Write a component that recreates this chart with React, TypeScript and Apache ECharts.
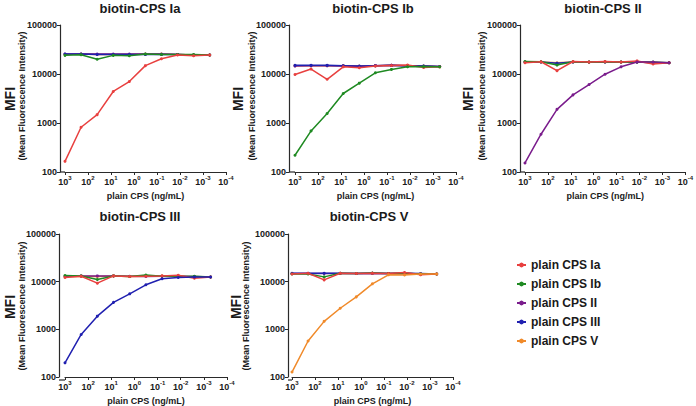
import React, { useEffect, useRef } from "react";
import * as echarts from "echarts";

const seriesNames = ["plain CPS Ia", "plain CPS Ib", "plain CPS II", "plain CPS III", "plain CPS V"];
const seriesColors = ["#e8403f", "#1f8a22", "#7a1c8c", "#2020b0", "#f08a2a"];
const seriesZ = [6, 5, 3, 4, 2];
const panelTitles = ["biotin-CPS Ia", "biotin-CPS Ib", "biotin-CPS II", "biotin-CPS III", "biotin-CPS V"];
const concentrations = [1000, 200, 40, 8, 1.6, 0.32, 0.064, 0.0128, 0.00256, 0.000512];

const panelIa = [
  [165, 820, 1480, 4400, 7000, 14800, 20500, 24500, 23500, 24500],
  [24000, 24800, 20000, 24000, 23500, 25500, 25000, 25000, 25000, 24500],
  [25500, 25500, 25500, 25500, 25500, 25500, 25500, 25000, 24500, 24500],
  [25500, 25500, 25000, 25000, 25000, 25000, 25000, 25000, 24500, 24500],
  [25000, 25500, 25000, 25000, 25000, 25500, 25500, 25000, 24500, 24500],
];
const panelIb = [
  [9800, 12600, 7800, 14000, 13400, 14500, 14900, 15200, 13600, 14000],
  [220, 690, 1560, 4000, 6500, 10600, 12400, 14100, 14200, 14000],
  [14500, 14800, 14800, 14500, 14200, 14800, 15000, 14800, 14500, 14200],
  [15000, 15000, 15000, 14800, 14500, 14800, 15000, 14500, 14500, 14200],
  [14800, 14800, 14800, 14800, 14500, 14800, 15000, 14800, 14500, 14000],
];
const panelII = [
  [17000, 17800, 11700, 18000, 17500, 18000, 17500, 18500, 16000, 17000],
  [18000, 17800, 15200, 17800, 17500, 17800, 17500, 17500, 17500, 17000],
  [153, 590, 1900, 3750, 6100, 9900, 14000, 17500, 17500, 17000],
  [17500, 17500, 16500, 17500, 17500, 17500, 17500, 17500, 17000, 17000],
  [17500, 17500, 17000, 17500, 17500, 17500, 17500, 17500, 17000, 17000],
];
const panelIII = [
  [12200, 13000, 9300, 13200, 12800, 13000, 13200, 13600, 11800, 12500],
  [13500, 13200, 11100, 13200, 12800, 13800, 13000, 12800, 13000, 12500],
  [13000, 13200, 13200, 13200, 13000, 12800, 13000, 13000, 12800, 12500],
  [198, 780, 1890, 3680, 5550, 8600, 11500, 12200, 12500, 12500],
  [12800, 13000, 12800, 13200, 12800, 13000, 13200, 13200, 12500, 12500],
];
const panelV = [
  [14500, 15000, 10900, 15000, 14800, 15000, 14800, 15500, 14000, 14500],
  [14500, 14500, 12600, 15000, 14800, 15200, 14800, 15000, 14500, 14500],
  [14800, 14800, 14800, 14800, 14800, 15000, 14800, 15000, 14500, 14500],
  [15000, 15000, 15000, 15000, 14800, 15000, 14800, 15000, 14800, 14500],
  [127, 570, 1470, 2770, 4800, 9000, 13900, 13800, 14500, 14500],
];
const panels = [panelIa, panelIb, panelII, panelIII, panelV];

const yAxisName = "MFI";
const yAxisSubName = "(Mean Fluorescence Intensity)";
const xAxisName = "plain CPS (ng/mL)";

const layout = [
  { left: 65, top: 25, width: 161, height: 147, yOffset: 5, title: [140, 8], mfi: [10, 99], mean: [22, 96] },
  { left: 295, top: 25, width: 161, height: 147, yOffset: 6, title: [373, 8], mfi: [238, 99], mean: [252, 96] },
  { left: 525, top: 25, width: 162, height: 147, yOffset: 5, title: [603, 8], mfi: [468, 99], mean: [482, 96] },
  { left: 65, top: 234, width: 162, height: 146, yOffset: 6, title: [140, 216], mfi: [10, 307], mean: [22, 306] },
  { left: 292, top: 234, width: 161, height: 146, yOffset: 4, title: [369, 216], mfi: [236, 307], mean: [246, 306] },
];

const FONT = "'Liberation Sans', Arial, sans-serif";
const TXT = "#1a1a1a";
const AXIS = "#2a2a2a";

export default function App() {
  const ref = useRef<HTMLDivElement>(null);
  useEffect(() => {
    if (!ref.current) return;
    const chart = echarts.init(ref.current, null, { renderer: "svg" });
    const grid: any[] = [];
    const xAxis: any[] = [];
    const yAxis: any[] = [];
    const series: any[] = [];
    const graphic: any[] = [];
    layout.forEach((L, p) => {
      grid.push({ left: L.left, top: L.top, width: L.width, height: L.height });
      xAxis.push({
        type: "log",
        logBase: 10,
        gridIndex: p,
        min: 0.0001,
        max: 1000,
        inverse: true,
        splitNumber: 7,
        name: xAxisName,
        nameLocation: "middle",
        nameGap: 19,
        nameTextStyle: { fontSize: 9, fontWeight: "bold", color: TXT, fontFamily: FONT },
        axisLine: { lineStyle: { color: AXIS, width: 1.2 } },
        axisTick: { length: 3, lineStyle: { color: AXIS } },
        splitLine: { show: false },
        minorTick: { show: false },
        axisLabel: {
          margin: 3,
          formatter: (v: number) => {
            const e = Math.round(Math.log10(v));
            return `{b|10}{s|${e}}`;
          },
          rich: {
            b: { fontSize: 9, fontWeight: "bold", color: TXT, fontFamily: FONT, verticalAlign: "bottom", lineHeight: 11 },
            s: { fontSize: 6, fontWeight: "bold", color: TXT, fontFamily: FONT, verticalAlign: "top", lineHeight: 11 },
          },
        },
      });
      yAxis.push({
        type: "log",
        logBase: 10,
        gridIndex: p,
        min: 100,
        max: 100000,
        splitNumber: 3,
        offset: L.yOffset,
        axisLine: { show: true, lineStyle: { color: AXIS, width: 1.2 } },
        axisTick: { show: true, length: 3, lineStyle: { color: AXIS } },
        splitLine: { show: false },
        axisLabel: {
          margin: 3,
          fontSize: 9,
          fontWeight: "bold",
          color: TXT,
          fontFamily: FONT,
          formatter: (v: number) => String(Math.round(v)),
        },
      });
      panels[p].forEach((vals, s) => {
        series.push({
          type: "line",
          name: seriesNames[s],
          xAxisIndex: p,
          yAxisIndex: p,
          data: concentrations.map((c, i) => [c, vals[i]]),
          symbol: "circle",
          symbolSize: 3,
          lineStyle: { width: 1.5, color: seriesColors[s] },
          itemStyle: { color: seriesColors[s] },
          z: s === p ? 8 : seriesZ[s],
        });
      });
      const bottom = L.top + L.height;
      graphic.push({
        type: "line",
        shape: { x1: L.left - L.yOffset, y1: bottom, x2: L.left, y2: bottom },
        style: { stroke: AXIS, lineWidth: 1.2 },
      });
      graphic.push({
        type: "text",
        x: L.title[0],
        y: L.title[1],
        style: { text: panelTitles[p], fontSize: 13, fontWeight: "bold", fill: TXT, fontFamily: FONT, textAlign: "center", textVerticalAlign: "middle" },
      });
      graphic.push({
        type: "text",
        x: L.mfi[0],
        y: L.mfi[1],
        rotation: Math.PI / 2,
        style: { text: yAxisName, fontSize: 14, fontWeight: "bold", fill: TXT, fontFamily: FONT, textAlign: "center", textVerticalAlign: "middle" },
      });
      graphic.push({
        type: "text",
        x: L.mean[0],
        y: L.mean[1],
        rotation: Math.PI / 2,
        style: { text: yAxisSubName, fontSize: 9, fontWeight: "bold", fill: TXT, fontFamily: FONT, textAlign: "center", textVerticalAlign: "middle" },
      });
    });
    chart.setOption({
      animation: false,
      backgroundColor: "#fff",
      color: seriesColors,
      grid,
      xAxis,
      yAxis,
      series,
      graphic,
      legend: {
        data: seriesNames,
        orient: "vertical",
        left: 511,
        top: 254,
        itemWidth: 9,
        itemHeight: 6,
        itemGap: 7,
        textStyle: { fontSize: 12, fontWeight: "bold", color: TXT, fontFamily: FONT },
      },
    });
    return () => chart.dispose();
  }, []);
  return <div ref={ref} style={{ position: "fixed", left: 0, top: 0, width: 696, height: 406 }} />;
}
